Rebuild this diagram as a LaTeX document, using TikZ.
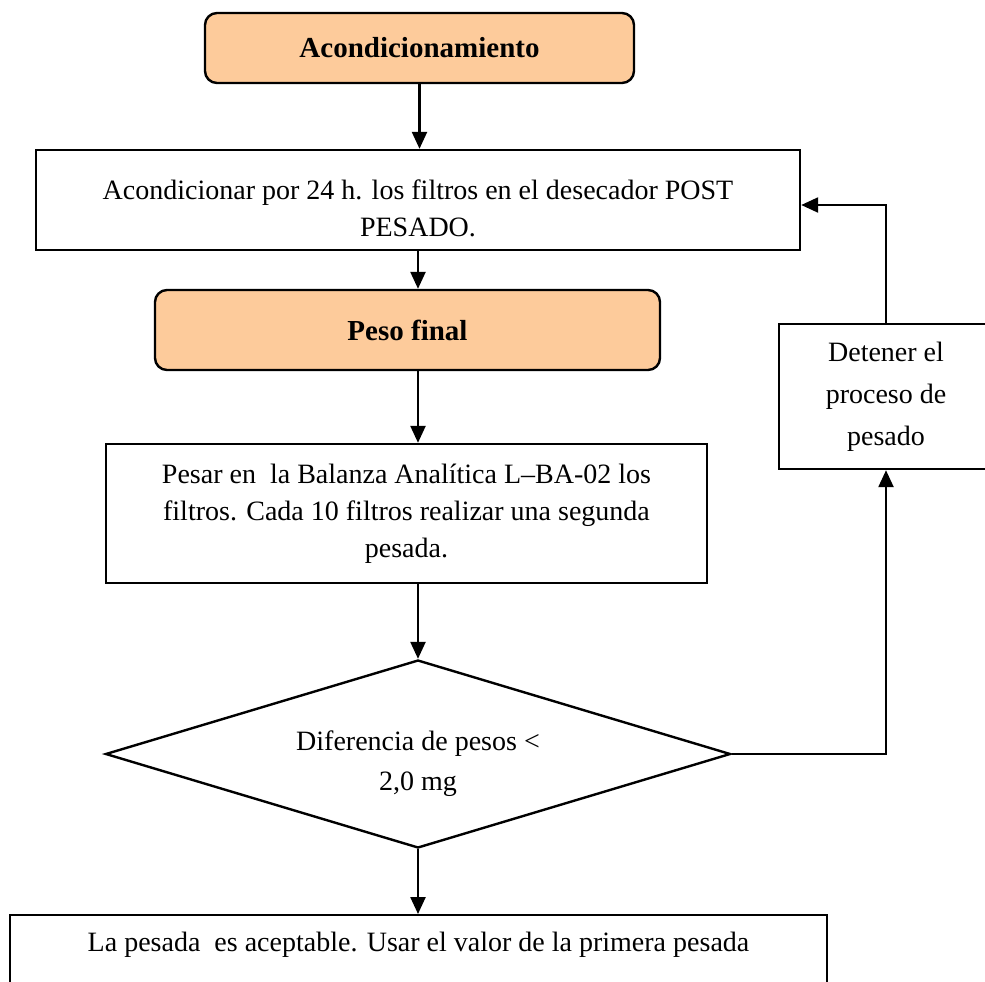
\documentclass[tikz,border=0pt]{standalone}
\usepackage{fontspec}
\setmainfont{Liberation Serif}
\usetikzlibrary{arrows.meta,shapes.geometric}
\definecolor{peach}{RGB}{253,203,155}
\newcommand{\myshift}[2]{\raisebox{-#1}[\height][\depth]{\begin{tabular}{@{}c@{}}#2\end{tabular}}}
\tikzset{
  box/.style={draw=black, line width=1.2pt, rectangle, inner sep=0pt, align=center,
    font=\fontsize{14}{18.5}\selectfont},
  titlebox/.style={box, rounded corners=6pt, fill=peach, font=\fontsize{14.5}{18}\selectfont\bfseries},
  decision/.style={draw=black, line width=1.2pt, diamond, aspect=3.3, inner sep=0pt, align=center,
    font=\fontsize{14}{20}\selectfont},
  flow/.style={line width=1.2pt, -{Triangle[length=8.5pt,width=7.5pt]}}
}
\begin{document}
\begin{tikzpicture}[x=0.5pt,y=-0.5pt]
\useasboundingbox (0,0) rectangle (985,981);
\clip (0,0) rectangle (985,981);

\node[titlebox, minimum width=214.5pt, minimum height=35pt] (top) at (419.5,48) {Acondicionamiento};
\node[box, minimum width=382pt, minimum height=50pt] (cond) at (418,200)
  {\myshift{5.25pt}{Acondicionar por 24 h. los filtros en el desecador POST\\PESADO.}};
\node[titlebox, minimum width=252.5pt, minimum height=40pt] (peso) at (407.5,330) {Peso final};
\node[box, minimum width=300.5pt, minimum height=69.5pt] (pesar) at (406.5,513.5)
  {Pesar en\ \ la Balanza Analítica L–BA-02 los\\filtros. Cada 10 filtros realizar una segunda\\pesada.};
\node[decision, minimum width=312.5pt, minimum height=94pt] (dia) at (418,754)
  {\myshift{4pt}{Diferencia de pesos <\\2,0 mg}};
\node[box, minimum width=107pt, minimum height=72.5pt, font=\fontsize{14}{21}\selectfont] (det) at (886,396.5)
  {Detener el\\proceso de\\pesado};
\node[box, anchor=north, minimum width=408.5pt, text height=18pt, text depth=40pt] (fin) at (418.5,914)
  {La pesada\ \ es aceptable. Usar el valor de la primera pesada};

\draw[flow] (top.south) -- (top.south |- cond.north);
\draw[flow] (cond.south) -- (cond.south |- peso.north);
\draw[flow] (dia.north |- peso.south) -- (dia.north |- pesar.north);
\draw[flow] (dia.north |- pesar.south) -- (dia.north);
\draw[flow] (dia.south) -- (dia.south |- fin.north);
\draw[flow] (dia.east) -| (det.south);
\draw[flow] (det.north) |- ([yshift=-2.5pt]cond.east);
\end{tikzpicture}
\end{document}
